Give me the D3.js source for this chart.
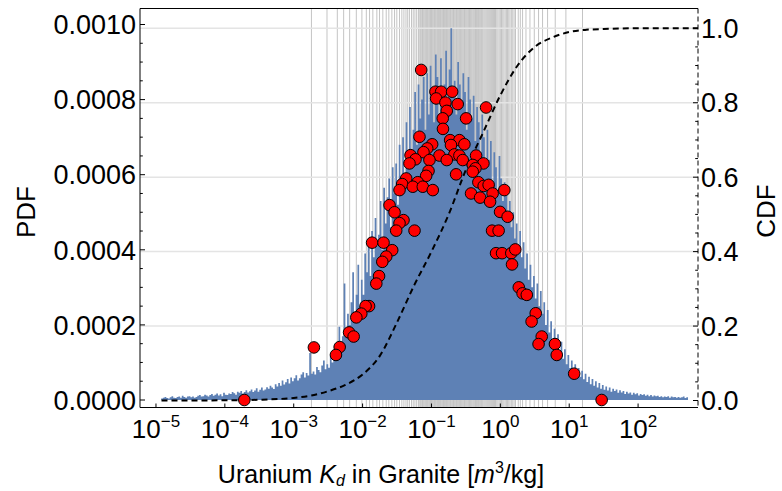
<!DOCTYPE html>
<html>
<head>
<meta charset="utf-8">
<script src="https://cdn.jsdelivr.net/npm/d3@7"></script>
<style>
  html, body { margin: 0; padding: 0; background: #fff; }
  svg text { font-family: "Liberation Sans", Arial, sans-serif; fill: #000; }
</style>
</head>
<body>
<svg id="chart" width="782" height="491"></svg>
<script>
/**
 * DATA
 */
// histogram of sampled log10(Kd): first bin edge, bin width, heights (PDF in units of 1e-4)
const hist_start = -4.925;
const hist_width = 0.025;
const hist_pdf = [
  0.04, 0.06, 0.08, 0.05, 0.04, 0.07, 0.10, 0.06, 0.05, 0.08, 0.09, 0.06, 0.11, 0.08, 0.06, 0.09, 0.10, 0.07, 0.09, 0.06,
  0.08, 0.11, 0.13, 0.09, 0.10, 0.14, 0.12, 0.09, 0.13, 0.16, 0.11, 0.14, 0.17, 0.12, 0.15, 0.10, 0.19, 0.14, 0.13, 0.17,
  0.16, 0.21, 0.18, 0.14, 0.22, 0.19, 0.24, 0.17, 0.21, 0.26, 0.20, 0.23, 0.28, 0.21, 0.25, 0.31, 0.22, 0.27, 0.33, 0.25,
  0.28, 0.34, 0.30, 0.38, 0.33, 0.29, 0.42, 0.36, 0.45, 0.38, 0.52, 0.41, 0.47, 0.56, 0.44, 0.60, 0.50, 0.58, 0.66, 0.52,
  0.58, 0.68, 0.74, 0.60, 0.72, 0.65, 1.25, 0.70, 0.76, 0.68, 0.88, 0.80, 0.74, 0.92, 1.05, 0.82, 0.95, 0.86, 1.18, 1.00,
  1.10, 1.35, 1.50, 1.95, 1.45, 1.70, 3.10, 1.90, 2.30, 2.00, 2.60, 3.40, 2.20, 2.80, 3.60, 2.50, 3.20, 2.80, 3.90, 3.40,
  4.20, 3.30, 4.50, 3.80, 4.85, 4.10, 4.40, 5.30, 4.00, 5.65, 4.70, 5.40, 5.90, 4.60, 6.20, 5.50, 6.30, 5.20, 6.80, 5.90,
  7.00, 5.80, 7.40, 6.60, 7.80, 6.40, 7.20, 8.20, 6.80, 8.40, 7.50, 8.00, 8.60, 7.20, 8.70, 7.60, 8.90, 8.20, 7.40, 9.20,
  8.60, 7.60, 9.10, 8.00, 8.40, 9.30, 7.80, 8.80, 9.90, 8.20, 8.50, 7.60, 9.00, 8.40, 7.80, 8.70, 8.20, 7.20, 8.60, 8.00,
  7.50, 8.10, 6.90, 7.80, 7.40, 6.60, 7.60, 7.00, 6.20, 7.20, 6.40, 6.90, 5.80, 6.60, 6.20, 5.60, 6.50, 5.90, 5.30, 5.80,
  5.50, 4.90, 5.30, 4.60, 5.00, 4.30, 4.70, 4.00, 4.50, 3.80, 4.20, 3.50, 3.90, 3.20, 3.60, 3.00, 3.30, 2.70, 3.10, 2.50,
  2.90, 2.30, 2.60, 2.00, 2.40, 1.80, 2.10, 1.60, 1.90, 1.40, 1.75, 1.30, 1.55, 1.10, 1.35, 0.95, 1.20, 0.85, 1.05, 0.75,
  0.95, 0.70, 0.85, 0.62, 0.78, 0.55, 0.70, 0.48, 0.62, 0.42, 0.56, 0.38, 0.50, 0.33, 0.45, 0.30, 0.40, 0.27, 0.36, 0.25,
  0.33, 0.22, 0.30, 0.24, 0.28, 0.19, 0.26, 0.20, 0.24, 0.16, 0.22, 0.17, 0.20, 0.14, 0.19, 0.15, 0.18, 0.12, 0.16, 0.13,
  0.15, 0.11, 0.14, 0.10, 0.13, 0.09, 0.12, 0.10, 0.11, 0.08, 0.10, 0.07, 0.09, 0.08, 0.10, 0.06, 0.09, 0.07, 0.08, 0.06,
  0.08, 0.06, 0.07, 0.09, 0.05, 0.07
];

// measured Kd values (log10) and their PDF (units of 1e-4)
const point_log_kd = [
  -1.149, -0.942, -0.859, -0.700, -0.932, -0.797, -0.619, -0.207, -0.778, -0.836,
  -0.497, -0.833, -1.174, -0.729, -0.594, -0.990, -0.717, -0.522, -1.062, -1.116,
  -1.304, -0.884, -0.667, -0.594, -0.352, -1.232, -1.029, -0.778, -0.546, -0.246,
  -1.319, -0.401, -0.362, -1.043, -0.401, -1.077, -0.642, -1.367, -1.199, -1.425,
  -0.319, -1.271, -1.126, -0.242, -1.464, -0.981, -0.170, -0.425, -0.294, -0.112,
   0.058, -0.149, -1.609, -1.536, -0.004,  0.106, -1.406, -1.464, -1.512, -1.246,
  -0.120, -0.025, -1.862, -1.696, -1.570, -0.062,  0.025,  0.159,  0.217, -1.657,
  -1.714,  0.170, -1.761, -1.801,  0.268,  0.323,  0.384, -1.906, -1.957, -2.019,
  -2.091,  0.514,  0.454, -2.196, -2.130,  0.601,  0.555,  0.793,  0.819, -2.333,
  -2.387, -2.707,  1.072, -3.717,  1.471
];
const point_pdf = [
  8.79, 8.21, 8.21, 8.21, 8.03, 7.92, 7.88, 7.79, 7.70, 7.50,
  7.50, 7.22, 7.01, 6.92, 6.92, 6.81, 6.79, 6.81, 6.70, 6.60,
  6.52, 6.51, 6.54, 6.51, 6.51, 6.41, 6.39, 6.39, 6.39, 6.30,
  6.30, 6.26, 6.17, 6.10, 6.08, 5.97, 6.01, 5.90, 5.80, 5.75,
  5.80, 5.68, 5.68, 5.70, 5.59, 5.59, 5.73, 5.50, 5.39, 5.50,
  5.59, 5.28, 5.19, 5.00, 5.01, 4.88, 4.79, 4.71, 4.51, 4.51,
  4.51, 4.51, 4.19, 4.19, 3.99, 3.91, 3.91, 3.91, 4.01, 3.82,
  3.68, 3.61, 3.30, 3.10, 3.00, 2.84, 2.80, 2.50, 2.50, 2.30,
  2.20, 2.31, 2.09, 1.80, 1.69, 1.69, 1.49, 1.49, 1.20, 1.41,
  1.20, 1.40, 0.70, 0.00, 0.00
];

// fitted CDF
const cdf_log_kd = [-4.92, -4.0, -3.5, -3.0, -2.75, -2.5, -2.25, -2.0, -1.75, -1.5, -1.25, -1.0,
                    -0.75, -0.5, -0.25, 0, 0.25, 0.5, 0.75, 1.0, 1.25, 1.5, 2.0, 2.87];
const cdf_values = [0, 0.0005, 0.002, 0.007, 0.013, 0.025, 0.042, 0.07, 0.12, 0.21, 0.31, 0.40,
                    0.50, 0.62, 0.72, 0.82, 0.90, 0.95, 0.975, 0.99, 0.996, 0.998, 1.0, 1.0];

// vertical grid lines (log10 Kd)
const grid_log_kd = [
  -2.743, -2.517, -2.367, -2.275, -2.188, -2.091, -2.010, -1.946, -1.899, -1.851,
  -1.793, -1.754, -1.706, -1.657, -1.619, -1.575, -1.536, -1.503, -1.464, -1.430,
  -1.40, -1.37, -1.345, -1.32, -1.29, -1.265, -1.24, -1.215, -1.19, -1.165,
  -1.14, -1.12, -1.095, -1.07, -1.05, -1.025, -1.0, -0.98, -0.955, -0.935,
  -0.91, -0.89, -0.87, -0.845, -0.825, -0.80, -0.78, -0.76, -0.735, -0.715,
  -0.69, -0.67, -0.645, -0.625, -0.60, -0.58, -0.555, -0.53, -0.51, -0.485,
  -0.46, -0.435, -0.41, -0.385, -0.36, -0.33, -0.305, -0.275, -0.25, -0.22,
  -0.19, -0.16, -0.13, -0.10, -0.07, -0.035, 0.0, 0.035, 0.07, 0.105,
  0.14, 0.18, 0.22, 0.323, 0.372, 0.430, 0.493, 0.555, 0.613, 0.686,
  0.797, 0.952, 1.193,
  -1.18, -1.155, -1.13, -1.108, -1.083, -1.06, -1.037, -1.013, -0.99, -0.967,
  -0.945, -0.922, -0.90, -0.88, -0.858, -0.835, -0.812, -0.79, -0.77, -0.748,
  -0.725, -0.702, -0.68, -0.658, -0.635, -0.612, -0.59, -0.567, -0.543, -0.52,
  -0.497, -0.472, -0.448, -0.422, -0.397, -0.372, -0.345, -0.318, -0.29, -0.262,
  -0.235, -0.205, -0.175, -0.145, -0.115, -0.085, -0.052, -0.017, 0.017, 0.052,
  0.088, 0.122, 0.16, 0.20, 0.26, 0.29
];

const pdf_ticks = [0, 0.0002, 0.0004, 0.0006, 0.0008, 0.0010];
const cdf_ticks = [0, 0.2, 0.4, 0.6, 0.8, 1.0];
const x_decades = [-5, -4, -3, -2, -1, 0, 1, 2];

/**
 * LAYOUT
 */
const plot = {left: 140, right: 698, top: 8.5, bottom: 407.5};
const pdf_unit = 1e-4;

const x = d3.scaleLog()
  .domain([Math.pow(10, -5.232), Math.pow(10, 2.87)])
  .range([plot.left, plot.right]);
const y_pdf = d3.scaleLinear().domain([0, 0.001]).range([400, 24.5]);
const y_cdf = d3.scaleLinear().domain([0, 1]).range([400.5, 28.3]);

const svg = d3.select("#chart");

svg.append("defs").append("clipPath").attr("id", "plot_clip")
  .append("rect")
  .attr("x", plot.left).attr("y", plot.top)
  .attr("width", plot.right - plot.left).attr("height", plot.bottom - plot.top);

// grid lines
const grid = svg.append("g");
grid.selectAll("line.v")
  .data(grid_log_kd)
  .join("line")
  .attr("class", "v")
  .attr("x1", d => x(Math.pow(10, d))).attr("x2", d => x(Math.pow(10, d)))
  .attr("y1", plot.top).attr("y2", plot.bottom)
  .attr("stroke", "#c4c4c4").attr("stroke-width", 1);
grid.selectAll("line.h")
  .data(cdf_ticks.slice(1))
  .join("line")
  .attr("class", "h")
  .attr("x1", plot.left).attr("x2", plot.right)
  .attr("y1", d => y_cdf(d)).attr("y2", d => y_cdf(d))
  .attr("stroke", "#e4e4e4").attr("stroke-width", 1.5);

// histogram (step area)
const hist_data = hist_pdf.map((v, i) => ({lk: hist_start + i * hist_width, v: v * pdf_unit}));
hist_data.push({lk: hist_start + hist_pdf.length * hist_width, v: hist_pdf[hist_pdf.length - 1] * pdf_unit});

const hist_area = d3.area()
  .curve(d3.curveStepAfter)
  .x(d => x(Math.pow(10, d.lk)))
  .y0(y_pdf(0))
  .y1(d => y_pdf(d.v));

svg.append("path")
  .datum(hist_data)
  .attr("d", hist_area)
  .attr("fill", "#5e81b5");

// CDF
const cdf_line = d3.line()
  .curve(d3.curveMonotoneX)
  .x((d, i) => x(Math.pow(10, cdf_log_kd[i])))
  .y(d => y_cdf(d));

svg.append("path")
  .attr("clip-path", "url(#plot_clip)")
  .datum(cdf_values)
  .attr("d", cdf_line)
  .attr("fill", "none")
  .attr("stroke", "#000")
  .attr("stroke-width", 2)
  .attr("stroke-dasharray", "6,4");

// points
svg.append("g")
  .selectAll("circle")
  .data(point_log_kd)
  .join("circle")
  .attr("cx", d => x(Math.pow(10, d)))
  .attr("cy", (d, i) => y_pdf(point_pdf[i] * pdf_unit))
  .attr("r", 5.8)
  .attr("fill", "#ff0000")
  .attr("stroke", "#000")
  .attr("stroke-width", 1);

/**
 * FRAME / AXES
 */
const frame = svg.append("g").attr("stroke", "#000").attr("stroke-width", 1);
frame.append("line").attr("x1", plot.left).attr("x2", plot.right).attr("y1", plot.top).attr("y2", plot.top);
frame.append("line").attr("x1", plot.left).attr("x2", plot.right).attr("y1", plot.bottom).attr("y2", plot.bottom);
frame.append("line").attr("x1", plot.left).attr("x2", plot.left).attr("y1", plot.top).attr("y2", plot.bottom);
frame.append("line").attr("x1", plot.right).attr("x2", plot.right).attr("y1", plot.top).attr("y2", plot.bottom)
  .attr("stroke-dasharray", "5,3");

// left ticks
const pdf_minor = d3.range(0, 0.00101, 0.00005);
frame.selectAll("line.lt")
  .data(pdf_minor)
  .join("line")
  .attr("class", "lt")
  .attr("x1", plot.left)
  .attr("x2", (d, i) => plot.left + (i % 4 === 0 ? 5 : 2.8))
  .attr("y1", d => y_pdf(d)).attr("y2", d => y_pdf(d));

// right ticks
const cdf_minor = d3.range(0, 1.001, 0.05);
frame.selectAll("line.rt")
  .data(cdf_minor)
  .join("line")
  .attr("class", "rt")
  .attr("x1", plot.right)
  .attr("x2", (d, i) => plot.right - (i % 4 === 0 ? 5 : 2.8))
  .attr("y1", d => y_cdf(d)).attr("y2", d => y_cdf(d));

// bottom ticks
frame.selectAll("line.bt")
  .data(x_decades)
  .join("line")
  .attr("class", "bt")
  .attr("x1", d => x(Math.pow(10, d))).attr("x2", d => x(Math.pow(10, d)))
  .attr("y1", plot.bottom).attr("y2", plot.bottom - 4);

// tick labels
svg.append("g")
  .selectAll("text")
  .data(pdf_ticks)
  .join("text")
  .attr("x", plot.left - 4)
  .attr("y", d => y_pdf(d))
  .attr("dy", "0.36em")
  .attr("text-anchor", "end")
  .attr("font-size", 27)
  .text(d => d.toFixed(4));

svg.append("g")
  .selectAll("text")
  .data(cdf_ticks)
  .join("text")
  .attr("x", plot.right + 3)
  .attr("y", d => y_cdf(d))
  .attr("dy", "0.36em")
  .attr("font-size", 27)
  .text(d => d.toFixed(1));

const x_labels = svg.append("g")
  .selectAll("text")
  .data(x_decades)
  .join("text")
  .attr("x", d => x(Math.pow(10, d)))
  .attr("y", 438)
  .attr("text-anchor", "middle")
  .attr("font-size", 26);
x_labels.append("tspan").text("10");
x_labels.append("tspan")
  .attr("dy", -11)
  .attr("font-size", 17)
  .text(d => String(d).replace("-", "\u2212"));

// axis titles
svg.append("text")
  .attr("transform", "translate(35,212) rotate(-90)")
  .attr("text-anchor", "middle")
  .attr("font-size", 26)
  .text("PDF");

svg.append("text")
  .attr("transform", "translate(775,211) rotate(-90)")
  .attr("text-anchor", "middle")
  .attr("font-size", 26)
  .text("CDF");

const x_title = svg.append("text")
  .attr("x", 381)
  .attr("y", 483)
  .attr("text-anchor", "middle")
  .attr("font-size", 25);
x_title.append("tspan").text("Uranium ");
x_title.append("tspan").attr("font-style", "italic").text("K");
x_title.append("tspan").attr("font-style", "italic").attr("font-size", 16).attr("dy", 3).text("d");
x_title.append("tspan").attr("dy", -3).text(" in Granite [");
x_title.append("tspan").attr("font-style", "italic").text("m");
x_title.append("tspan").attr("font-size", 16).attr("dy", -10).text("3");
x_title.append("tspan").attr("dy", 10).text("/kg]");
</script>
</body>
</html>
